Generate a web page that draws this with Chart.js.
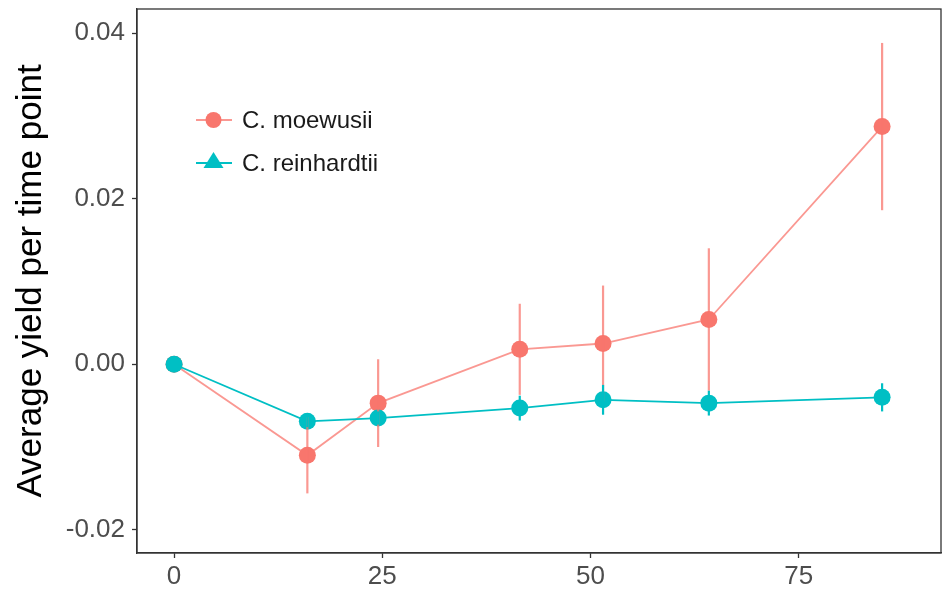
<!DOCTYPE html>
<html>
<head>
<meta charset="utf-8">
<script src="https://cdn.jsdelivr.net/npm/chart.js@4.4.1/dist/chart.umd.min.js"></script>
<style>
  html, body { margin: 0; padding: 0; background: #fff; }
  #wrap { width: 942px; height: 593px; position: relative; }
</style>
</head>
<body>
<div id="wrap"><canvas id="c" width="942" height="593"></canvas></div>
<script>
// Sampling times (days)
const times = [0, 16, 24.5, 41.5, 51.5, 64.2, 85];
// Mean yield per time point and half-width of error bars
const moewusiiMean = [0, -0.0110, -0.0047, 0.0018, 0.0025, 0.0054, 0.0287];
const moewusiiErr  = [0, 0.0046, 0.0053, 0.0055, 0.0070, 0.0086, 0.0101];
const reinhardtiiMean = [0, -0.0069, -0.0065, -0.0053, -0.0043, -0.0047, -0.0040];
const reinhardtiiErr  = [0, 0.0007, 0.0008, 0.0015, 0.0018, 0.0015, 0.0017];
// Axis ticks
const yTicks = [-0.02, 0.00, 0.02, 0.04];
const xTicks = [0, 25, 50, 75];
const seriesNames = ['C. moewusii', 'C. reinhardtii'];

const RED = '#F8766D';
const RED_SOFT = 'rgba(248,118,109,0.75)';
const TEAL = '#00BFC4';
const FONT = '"Liberation Sans", Arial, sans-serif';

const toXY = (xs, ys) => xs.map((x, i) => ({ x: x, y: ys[i] }));

// Vertical error bars, full panel frame and in-panel legend
const extras = {
  id: 'extras',
  afterDatasetsDraw(chart) {
    const { ctx, scales: { x, y } } = chart;
    const bars = [
      { mean: moewusiiMean, err: moewusiiErr, color: RED_SOFT },
      { mean: reinhardtiiMean, err: reinhardtiiErr, color: TEAL }
    ];
    ctx.save();
    ctx.lineWidth = 2.2;
    bars.forEach(b => {
      ctx.strokeStyle = b.color;
      times.forEach((t, i) => {
        if (!b.err[i]) return;
        const px = x.getPixelForValue(t);
        ctx.beginPath();
        ctx.moveTo(px, y.getPixelForValue(b.mean[i] + b.err[i]));
        ctx.lineTo(px, y.getPixelForValue(b.mean[i] - b.err[i]));
        ctx.stroke();
      });
    });
    ctx.restore();
  },
  afterDraw(chart) {
    const { ctx, chartArea: a } = chart;
    ctx.save();
    ctx.strokeStyle = '#333333';
    ctx.lineWidth = 1.3;
    ctx.strokeRect(a.left, a.top, a.right - a.left, a.bottom - a.top);

    // legend
    const entries = [
      { label: seriesNames[0], color: RED, line: RED_SOFT, shape: 'circle', y: 120 },
      { label: seriesNames[1], color: TEAL, line: TEAL, shape: 'triangle', y: 163 }
    ];
    entries.forEach(e => {
      ctx.strokeStyle = e.line;
      ctx.fillStyle = e.color;
      ctx.lineWidth = 2;
      ctx.beginPath();
      ctx.moveTo(196, e.y);
      ctx.lineTo(232, e.y);
      ctx.stroke();
      ctx.beginPath();
      if (e.shape === 'circle') {
        ctx.arc(213.5, e.y, 8, 0, Math.PI * 2);
      } else {
        ctx.moveTo(213.5, e.y - 11);
        ctx.lineTo(223.5, e.y + 5);
        ctx.lineTo(203.5, e.y + 5);
        ctx.closePath();
      }
      ctx.fill();
      ctx.fillStyle = '#1a1a1a';
      ctx.font = '24px ' + FONT;
      ctx.textBaseline = 'middle';
      ctx.textAlign = 'left';
      ctx.fillText(e.label, 242, e.y + 1);
    });
    ctx.restore();
  }
};

new Chart(document.getElementById('c'), {
  type: 'line',
  data: {
    datasets: [
      {
        label: seriesNames[0],
        data: toXY(times, moewusiiMean),
        borderColor: RED_SOFT,
        backgroundColor: RED,
        pointBackgroundColor: RED,
        pointBorderColor: RED,
        borderWidth: 1.8,
        pointRadius: 8.5,
        pointBorderWidth: 0,
        tension: 0,
        order: 2
      },
      {
        label: seriesNames[1],
        data: toXY(times, reinhardtiiMean),
        borderColor: TEAL,
        backgroundColor: TEAL,
        pointBackgroundColor: TEAL,
        pointBorderColor: TEAL,
        borderWidth: 1.8,
        pointRadius: 8.5,
        pointBorderWidth: 0,
        tension: 0,
        order: 1
      }
    ]
  },
  options: {
    responsive: false,
    animation: false,
    events: [],
    layout: { autoPadding: false, padding: { top: 9, right: 1, left: 0, bottom: 0 } },
    plugins: { legend: { display: false }, tooltip: { enabled: false } },
    scales: {
      x: {
        type: 'linear',
        min: -4.45,
        max: 92.07,
        afterBuildTicks: s => { s.ticks = xTicks.map(v => ({ value: v })); },
        afterFit: s => { s.height = 40; s.paddingLeft = 0; s.paddingRight = 0; },
        grid: { drawOnChartArea: false, drawTicks: true, tickLength: 5, color: '#333333', tickWidth: 1.3 },
        border: { display: true, color: '#333333', width: 1.3 },
        ticks: {
          color: '#4D4D4D',
          font: { family: FONT, size: 26 },
          padding: 3,
          maxRotation: 0,
          callback: v => String(v)
        }
      },
      y: {
        type: 'linear',
        min: -0.0228,
        max: 0.0429,
        afterBuildTicks: s => { s.ticks = yTicks.map(v => ({ value: v })); },
        afterFit: s => { s.width = 137; s.paddingTop = 0; s.paddingBottom = 0; },
        grid: { drawOnChartArea: false, drawTicks: true, tickLength: 5, color: '#333333', tickWidth: 1.3 },
        border: { display: true, color: '#333333', width: 1.3 },
        title: {
          display: true,
          text: 'Average yield per time point',
          color: '#000000',
          font: { family: FONT, size: 35 },
          padding: { top: 10, bottom: 0 }
        },
        ticks: {
          color: '#4D4D4D',
          font: { family: FONT, size: 26 },
          padding: 7,
          callback: v => v.toFixed(2)
        }
      }
    }
  },
  plugins: [extras]
});
</script>
</body>
</html>
